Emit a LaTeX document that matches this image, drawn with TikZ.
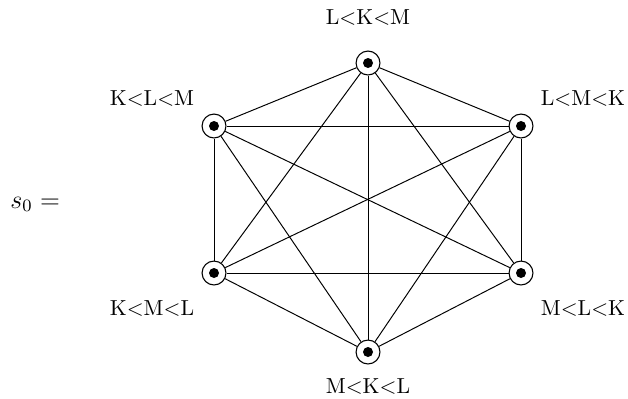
\documentclass[tikz,border=0pt]{standalone}
\begin{document}
\begin{tikzpicture}[x=0.46pt,y=-0.46pt,
  vert/.style={circle,draw,line width=0.5pt,minimum size=11pt,inner sep=0pt,
    path picture={\fill (path picture bounding box.center) circle (2.3pt);}},
  lbl/.style={anchor=base,inner sep=0pt},
  edge/.style={line width=0.45pt}]
\useasboundingbox (0,0) rectangle (628,398);
\node[vert] (a) at (368,63) {};
\node[vert] (b) at (521,126) {};
\node[vert] (c) at (521,273) {};
\node[vert] (d) at (368,352) {};
\node[vert] (e) at (214,273) {};
\node[vert] (f) at (214,126) {};
\node[lbl] (la) at (368,24) {L$<$K$<$M};
\node[lbl] (lb) at (583,105) {L$<$M$<$K};
\node[lbl] (lc) at (583,315) {M$<$L$<$K};
\node[lbl] (ld) at (368,393) {M$<$K$<$L};
\node[lbl] (le) at (152,315) {K$<$M$<$L};
\node[lbl] (lf) at (152,105) {K$<$L$<$M};
\node[anchor=base west,inner sep=0pt,font=\large] (s) at (10,208) {$s_0 =$};
\foreach \u/\v in {a/b,a/c,a/d,a/e,a/f,b/c,b/d,b/e,b/f,c/d,c/e,c/f,d/e,d/f,e/f}
  \draw[edge] (\u) -- (\v);
\end{tikzpicture}
\end{document}
